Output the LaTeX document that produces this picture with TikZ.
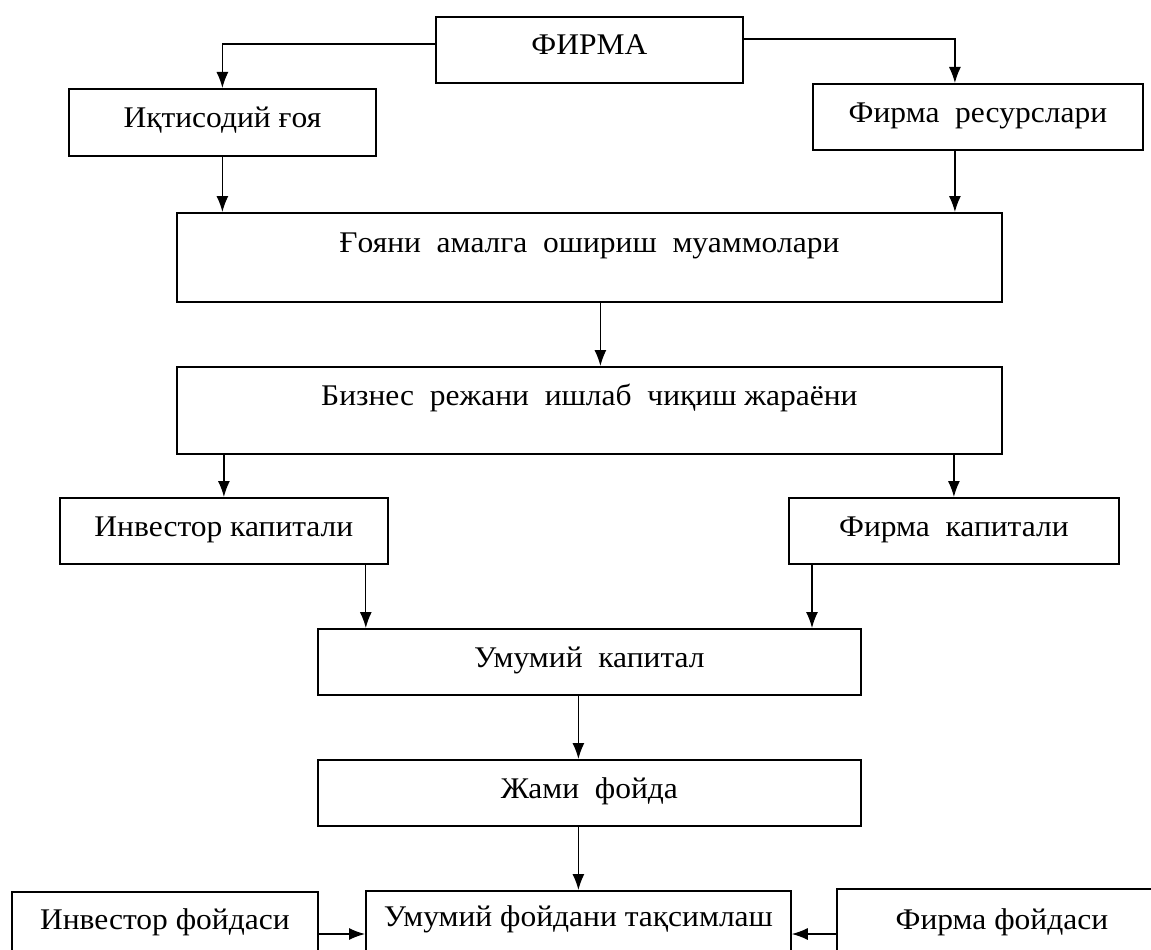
\documentclass[tikz,border=0pt]{standalone}
\usepackage{fontspec}
\setmainfont[FakeStretch=1.05]{Liberation Serif}
\usetikzlibrary{arrows.meta}

\begin{document}
\begin{tikzpicture}[x=1pt, y=-1pt,
  box/.style={draw, line width=1.8pt, inner sep=0pt, anchor=north west, font=\fontsize{30}{36}\selectfont},
  arr/.style={-{Latex[length=16pt,width=12pt]}, line width=1.3pt}]
 \useasboundingbox (0,0) rectangle (1151,950);

 % boxes, placed by their top left corner
 \node[box, minimum width=307pt, text height=38pt, text depth=28pt] (firma) at (435,16) {ФИРМА};
 \node[box, minimum width=307pt, text height=39pt, text depth=28pt] (goya) at (68,88) {Иқтисодий ғоя};
 \node[box, minimum width=330pt, text height=39pt, text depth=27pt] (resurs) at (812,83) {Фирма\ \ ресурслари};
 \node[box, minimum width=825pt, text height=40pt, text depth=49pt] (muammo) at (176,212) {Ғояни\ \ амалга\ \ ошириш\ \ муаммолари};
 \node[box, minimum width=825pt, text height=39pt, text depth=48pt] (biznes) at (176,366) {Бизнес\ \ режани\ \ ишлаб\ \ чиқиш жараёни};
 \node[box, minimum width=328pt, text height=39pt, text depth=27pt] (invkap) at (59,497) {Инвестор капитали};
 \node[box, minimum width=330pt, text height=39pt, text depth=27pt] (firmkap) at (788,497) {Фирма\ \ капитали};
 \node[box, minimum width=543pt, text height=39pt, text depth=27pt] (umkap) at (317,628) {Умумий\ \ капитал};
 \node[box, minimum width=543pt, text height=39pt, text depth=27pt] (jami) at (317,759) {Жами\ \ фойда};
 \node[box, minimum width=425pt, text height=36pt, text depth=64pt] (taqsim) at (365,890) {Умумий фойдани тақсимлаш};
 \node[box, minimum width=306pt, text height=38pt, text depth=61pt] (invfoy) at (11,891) {Инвестор фойдаси};
 \node[box, minimum width=330pt, text height=41pt, text depth=61pt] (firmfoy) at (836,888) {Фирма фойдаси};

 % points where the arrows leave or meet a box off its middle
 \coordinate (fl) at ([yshift=6pt]firma.west);
 \coordinate (fr) at ([yshift=11pt]firma.east);
 \coordinate (rs) at ([xshift=-23pt]resurs.south);
 \coordinate (rn) at ([xshift=-23pt]resurs.north);
 \coordinate (ik) at ([xshift=-23pt]invkap.south east);
 \coordinate (fk) at ([xshift=24pt]firmkap.south west);
 \coordinate (tl) at ([yshift=-44pt]taqsim.north west);
 \coordinate (tr) at ([yshift=-44pt]taqsim.north east);

 \draw[arr] (fl) -| (goya.north);
 \draw[arr] (fr) -| (rn);
 \draw[arr] (goya.south) -- (goya.south |- muammo.north);
 \draw[arr] (rs) -- (rs |- muammo.north);
 \draw[arr] ([xshift=11pt]muammo.south) -- ([xshift=11pt]biznes.north);
 \draw[arr] (invkap.north |- biznes.south) -- (invkap.north);
 \draw[arr] (firmkap.north |- biznes.south) -- (firmkap.north);
 \draw[arr] (ik) -- (ik |- umkap.north);
 \draw[arr] (fk) -- (fk |- umkap.north);
 \draw[arr] ([xshift=-11pt]umkap.south) -- ([xshift=-11pt]jami.north);
 \draw[arr] (taqsim.north |- jami.south) -- (taqsim.north);
 \draw[arr] (invfoy.east |- tl) -- (tl);
 \draw[arr] (firmfoy.west |- tr) -- (tr);
\end{tikzpicture}
\end{document}
